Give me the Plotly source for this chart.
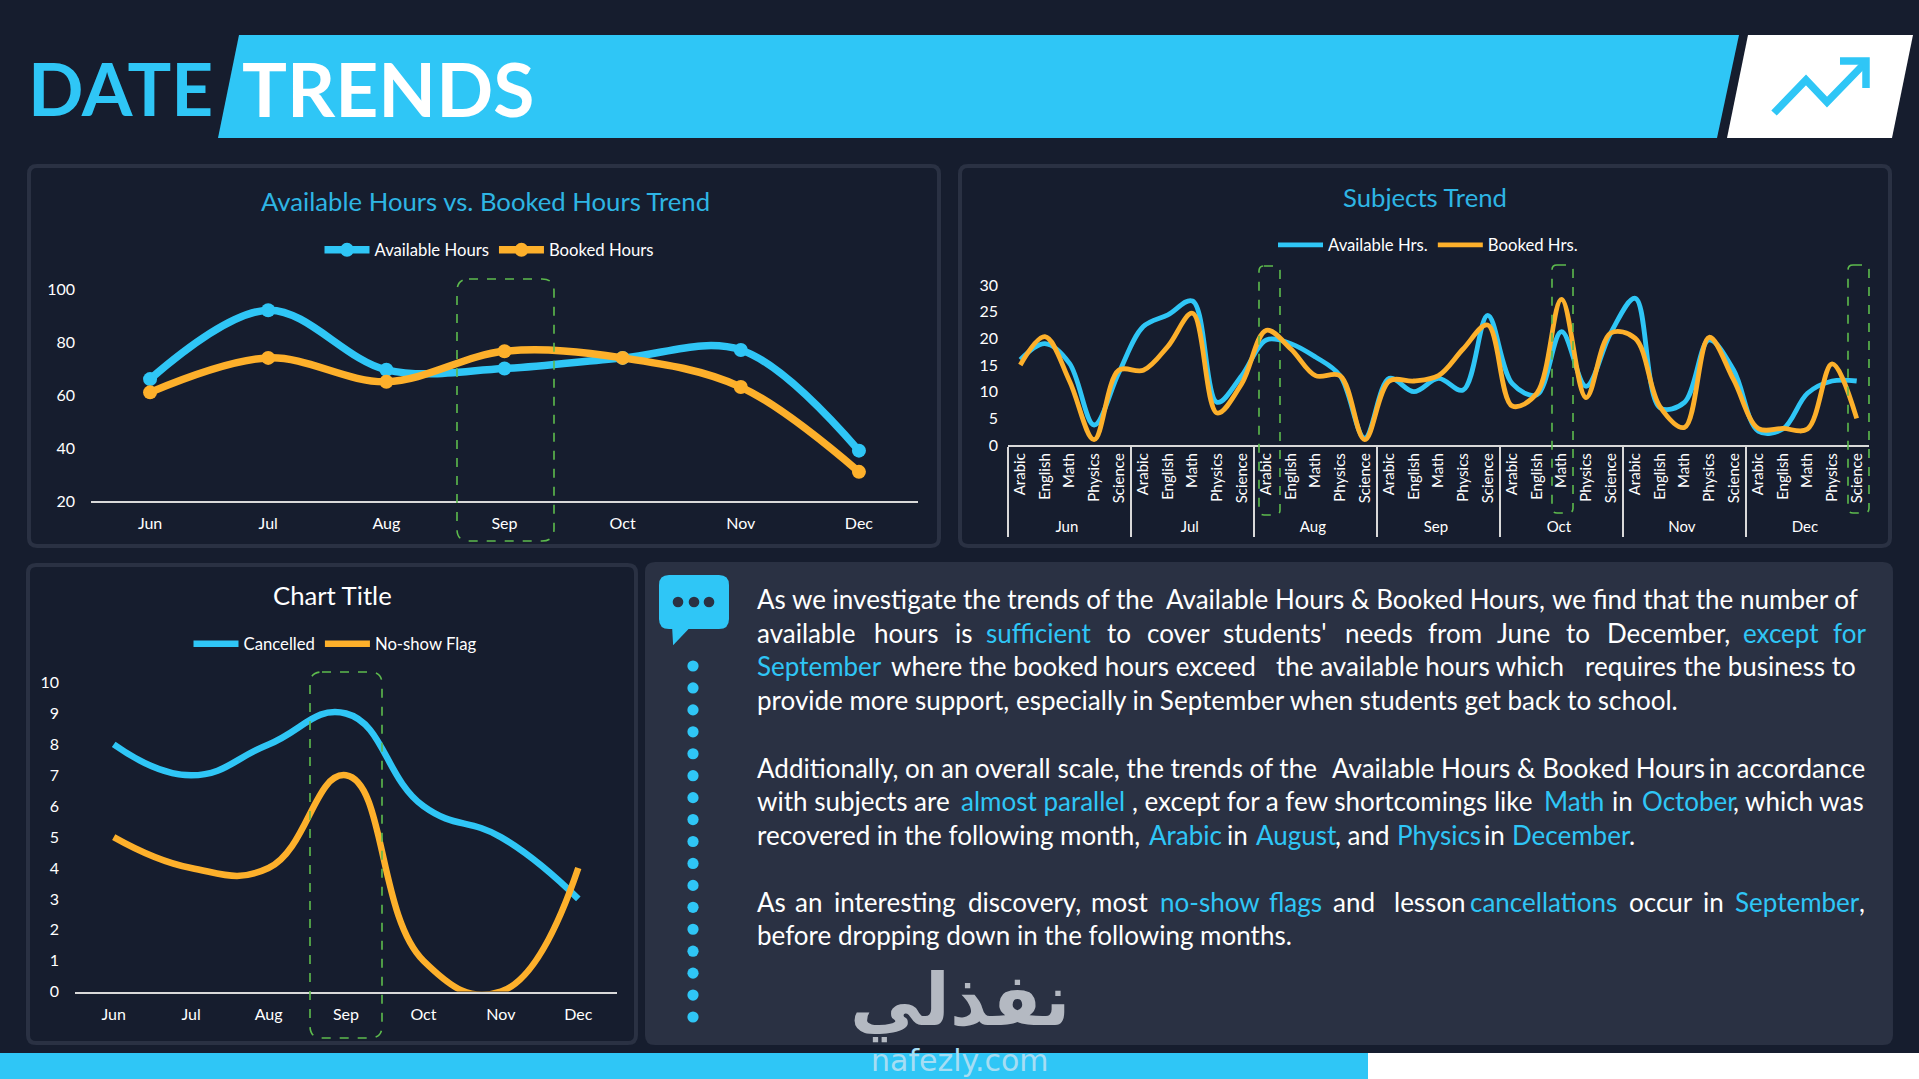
import plotly.graph_objects as go

W, H = 1919, 1079
BG = "#161D2E"; PANEL = "#2A3143"; BLUE = "#2FC6F6"; ORANGE = "#FDB02B"; GREEN = "#5DBB4D"
AXIS = "#D9D9D9"; TITLE = "#2EB5E4"; FONT = "Lato"

months = ["Jun", "Jul", "Aug", "Sep", "Oct", "Nov", "Dec"]
subjects = ["Arabic", "English", "Math", "Physics", "Science"]

available_hours = [66, 92, 69.5, 70, 74, 77, 39]
booked_hours = [61, 74, 65, 76.5, 74, 63, 31]

available_subj = [16, 19, 15.3, 3.75, 13.5,
                  22.2, 24.4, 27, 8, 13,
                  19.7, 19, 16.5, 13, 1.3,
                  12.5, 10, 12.5, 10.3, 24.3,
                  11.5, 9.4, 21.25, 11, 21,
                  27.5, 7, 8, 19.7, 14,
                  2.6, 3, 9.7, 12, 12]
booked_subj = [15, 20.3, 12, 1, 14,
               14, 18.5, 24.7, 6, 11.5,
               21.5, 18, 13, 13, 1,
               12, 12, 13, 18, 22.5,
               7.3, 9.7, 27.3, 8.9, 21,
               20, 7.2, 3.3, 20.2, 12.2,
               3.1, 3.1, 3, 15.2, 5]

cancelled = [8, 7, 8, 9, 6, 5, 3]
no_show = [5, 4, 4, 7, 1, 0, 4]

WHITE = "#FFFFFF"
text_lines = [
    (599, [(143, "As we investigate the trends of the", WHITE), (645, "Available Hours & Booked Hours,", WHITE),
           (1118, "we find that the number of", WHITE)]),
    (633, [(143, "available", WHITE), (287, "hours", WHITE), (386, "is", WHITE), (424, "sufficient", BLUE),
           (572, "to", WHITE), (621, "cover", WHITE), (715, "students'", WHITE), (864, "needs", WHITE),
           (966, "from", WHITE), (1051, "June", WHITE), (1135, "to", WHITE), (1185, "December,", WHITE),
           (1352, "except", BLUE), (1463, "for", BLUE)]),
    (666, [(143, "September", BLUE), (308, "where the booked hours exceed", WHITE),
           (780, "the available hours which", WHITE), (1158, "requires the business to", WHITE)]),
    (700, [(143, "provide more support, especially in September when students get back to school.", WHITE)]),
    (768, [(143, "Additionally, on an overall scale, the trends of the", WHITE),
           (848, "Available Hours & Booked Hours", WHITE), (1310, "in accordance", WHITE)]),
    (801, [(143, "with subjects are", WHITE), (393, "almost parallel", BLUE), (603, ", except for a few shortcomings like", WHITE),
           (1108, "Math", BLUE), (1192, "in", WHITE), (1228, "October", BLUE), (1340, ", which was", WHITE)]),
    (835, [(143, "recovered in the following month,", WHITE), (624, "Arabic", BLUE), (720, "in", WHITE), (755, "August", BLUE),
           (852, ", and", WHITE), (928, "Physics", BLUE), (1035, "in", WHITE), (1069, "December", BLUE), (1212, ".", WHITE)]),
    (902, [(143, "As", WHITE), (190, "an", WHITE), (238, "interesting", WHITE), (402, "discovery,", WHITE), (553, "most", WHITE),
           (638, "no-show", BLUE), (771, "flags", BLUE), (850, "and", WHITE), (924, "lesson", WHITE),
           (1018, "cancellations", BLUE), (1213, "occur", WHITE), (1303, "in", WHITE), (1343, "September", BLUE), (1495, ",", WHITE)]),
    (935, [(143, "before dropping down in the following months.", WHITE)]),
]


def px(x):
    return x / W


def py(y):
    return 1 - y / H


def poly(points):
    return "M " + " L ".join(f"{px(x):.5f} {py(y):.5f}" for x, y in points) + " Z"


def rounded(x0, y0, x1, y1, r):
    a, b, c, d = px(x0), px(x1), py(y0), py(y1)
    rx, ry = r / W, r / H
    return (f"M {a+rx:.5f} {c:.5f} L {b-rx:.5f} {c:.5f} Q {b:.5f} {c:.5f} {b:.5f} {c-ry:.5f} "
            f"L {b:.5f} {d+ry:.5f} Q {b:.5f} {d:.5f} {b-rx:.5f} {d:.5f} L {a+rx:.5f} {d:.5f} "
            f"Q {a:.5f} {d:.5f} {a:.5f} {d+ry:.5f} L {a:.5f} {c-ry:.5f} Q {a:.5f} {c:.5f} {a+rx:.5f} {c:.5f} Z")


def path_shape(path, fill=None, line=None, width=0, dash=None, layer="below"):
    shape = dict(type="path", xref="paper", yref="paper", path=path, layer=layer,
                 line=dict(color=line or "rgba(0,0,0,0)", width=width))
    if fill:
        shape["fillcolor"] = fill
    if dash:
        shape["line"]["dash"] = dash
    return shape


def circle(cx, cy, r, color):
    return dict(type="circle", xref="paper", yref="paper", layer="above",
                x0=px(cx - r), x1=px(cx + r), y0=py(cy + r), y1=py(cy - r),
                fillcolor=color, line=dict(width=0))


def note(x, y, text, size, color=WHITE, anchor="left", family=FONT, bold=False):
    return dict(xref="paper", yref="paper", x=px(x), y=py(y), xanchor=anchor, yanchor="middle",
                text=f"<b>{text}</b>" if bold else text, showarrow=False,
                font=dict(family=family, size=size, color=color))


fig = go.Figure()

for name, vals, col in [("Available Hours", available_hours, BLUE), ("Booked Hours", booked_hours, ORANGE)]:
    fig.add_trace(go.Scatter(x=months, y=vals, name=name, mode="lines+markers", legend="legend",
                             line=dict(color=col, width=7.5, shape="spline", smoothing=1.0),
                             marker=dict(size=14, color=col), cliponaxis=False, xaxis="x", yaxis="y"))

month_level = [m for m in months for _ in subjects]
subject_level = [s for _ in months for s in subjects]
for name, vals, col in [("Available Hrs.", available_subj, BLUE), ("Booked Hrs.", booked_subj, ORANGE)]:
    fig.add_trace(go.Scatter(x=[month_level, subject_level], y=vals, name=name, mode="lines", legend="legend2",
                             line=dict(color=col, width=4.8, shape="spline", smoothing=1.0),
                             cliponaxis=False, xaxis="x2", yaxis="y2"))

for name, vals, col in [("Cancelled", cancelled, BLUE), ("No-show Flag", no_show, ORANGE)]:
    fig.add_trace(go.Scatter(x=months, y=vals, name=name, mode="lines", legend="legend3",
                             line=dict(color=col, width=6.5, shape="spline", smoothing=1.3),
                             xaxis="x3", yaxis="y3"))

shapes = [
    path_shape(poly([(239, 35), (1739, 35), (1717, 138), (218, 138)]), fill=BLUE),
    path_shape(poly([(1748, 35), (1913, 35), (1892, 138), (1727, 138)]), fill=WHITE),
    path_shape(rounded(29, 166, 939, 546, 8), line=PANEL, width=4),
    path_shape(rounded(960, 166, 1890, 546, 8), line=PANEL, width=4),
    path_shape(rounded(28, 565, 636, 1043, 8), line=PANEL, width=4),
    path_shape(rounded(645, 562, 1893, 1045, 10), fill=PANEL),
    dict(type="rect", xref="paper", yref="paper", layer="below", x0=0, x1=px(1368), y0=0, y1=py(1053),
         fillcolor=BLUE, line=dict(width=0)),
    dict(type="rect", xref="paper", yref="paper", layer="below", x0=px(1368), x1=1, y0=0, y1=py(1053),
         fillcolor=WHITE, line=dict(width=0)),
]
arrow_line = "M " + " L ".join(f"{px(x):.5f} {py(y):.5f}" for x, y in [(1774, 113), (1806, 80), (1827, 102), (1866, 62)])
arrow_head = "M " + " L ".join(f"{px(x):.5f} {py(y):.5f}" for x, y in [(1840, 61), (1866, 61), (1866, 88)])
for p in (arrow_line, arrow_head):
    shapes.append(path_shape(p, line=BLUE, width=7.5, layer="above"))
shapes.append(path_shape(rounded(659, 575, 729, 629, 10), fill=BLUE, layer="above"))
shapes.append(path_shape(poly([(673, 625), (674, 643), (691, 625)]), fill=BLUE, line=BLUE, width=2, layer="above"))
for cx in (678, 694, 709):
    shapes.append(circle(cx, 602, 5.3, PANEL))
for i in range(17):
    shapes.append(circle(693, 666 + i * (1017 - 666) / 16, 5.6, BLUE))
for box in [(457, 279, 554, 541, 12), (310, 672, 382, 1038, 12), (1259, 266, 1280, 515, 5),
            (1552, 265, 1573, 513, 5), (1848, 265, 1869, 513, 5)]:
    shapes.append(path_shape(rounded(*box), line=GREEN, width=1.6, dash="dash", layer="above"))

annotations = [
    note(26, 88, "DATE", 73, BLUE, bold=True),
    note(240, 88, "TRENDS", 75, WHITE, bold=True),
    note(486, 201, "Available Hours vs. Booked Hours Trend", 25.7, TITLE, "center"),
    note(1425, 197, "Subjects Trend", 25.7, TITLE, "center"),
    note(332, 595, "Chart Title", 25.7, WHITE, "center"),
    note(960, 1000, "نفذلي", 72, "#B4B9C2", "center", family="DejaVu Sans", bold=True),
    note(960, 1060, "nafezly.com", 30, "#A6DDF3", "center", family="DejaVu Sans"),
]
for y, segs in text_lines:
    for zx, txt, col in segs:
        annotations.append(note(638 + zx / 1.226, y, txt, 26, col))

axis_common = dict(showgrid=False, zeroline=False, ticks="", fixedrange=True, automargin=False)
xaxis_common = dict(axis_common, type="category", range=[-0.5, 6.5], showline=True, linecolor=AXIS, linewidth=2.4,
                    tickfont=dict(family=FONT, size=16, color=WHITE), ticklabelstandoff=7)
yaxis_common = dict(axis_common, showline=False, tickfont=dict(family=FONT, size=16, color=WHITE), ticklabelstandoff=15)


def legend(cx, cy):
    return dict(orientation="h", x=px(cx), y=py(cy), xanchor="center", yanchor="middle", itemwidth=45,
                bgcolor="rgba(0,0,0,0)", font=dict(family=FONT, size=16.7, color=WHITE), traceorder="normal")


fig.update_layout(
    width=W, height=H, autosize=False, margin=dict(l=0, r=0, t=0, b=0, pad=0, autoexpand=False),
    paper_bgcolor=BG, plot_bgcolor="rgba(0,0,0,0)",
    shapes=shapes, annotations=annotations, hovermode=False,
    font=dict(family=FONT, color=WHITE),
    legend=legend(489, 250), legend2=legend(1428, 245), legend3=legend(335, 644),
    xaxis=dict(xaxis_common, domain=[px(91), px(918)], anchor="y"),
    yaxis=dict(yaxis_common, domain=[py(501), py(289)], anchor="x", range=[20, 100], dtick=20),
    xaxis2=dict(axis_common, type="multicategory", range=[-0.5, 34.5], domain=[px(1008), px(1869)], anchor="y2", showline=True,
                linecolor=AXIS, linewidth=2.4, tickangle=-90, showdividers=True, dividercolor=AXIS, dividerwidth=2,
                tickfont=dict(family=FONT, size=15, color=WHITE)),
    yaxis2=dict(yaxis_common, domain=[py(445), py(285)], anchor="x2", range=[0, 30], dtick=5, ticklabelstandoff=9),
    xaxis3=dict(xaxis_common, domain=[px(75), px(617)], anchor="y3"),
    yaxis3=dict(yaxis_common, domain=[py(991.6), py(682.6)], anchor="x3", range=[0, 10], dtick=1),
)

fig.write_html("out.html", config=dict(displayModeBar=False),
               post_script="document.body.style.margin='0';document.body.style.overflow='hidden';document.body.style.background='%s';" % BG)
